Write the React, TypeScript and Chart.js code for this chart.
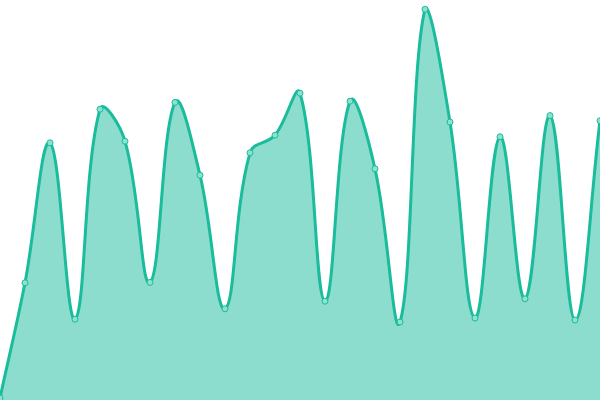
import Chart from "chart.js/auto";
import { useRef, useEffect } from "react";

// one label per point, no axes are shown
const labels = [
  "1", "2", "3", "4", "5", "6", "7", "8", "9", "10", "11", "12", "13",
  "14", "15", "16", "17", "18", "19", "20", "21", "22", "23", "24", "25",
];

const values = [
  0.5, 29.3, 64.3, 20.2, 72.7, 64.7, 29.4, 74.4, 56.2, 22.8, 61.8, 66.2, 76.7,
  24.7, 74.7, 57.8, 19.5, 97.7, 69.5, 20.5, 65.8, 25.3, 71.1, 20, 69.8,
];

const lineColor = "#1abc9c";
const fillColor = "rgba(26, 188, 156, 0.5)";

export const App = () => {
  const canvasRef = useRef<HTMLCanvasElement | null>(null);

  useEffect(() => {
    const canvas = canvasRef.current;
    if (!canvas) return;
    const chart = new Chart(canvas, {
      type: "line",
      data: {
        labels: labels,
        datasets: [
          {
            data: values,
            borderColor: lineColor,
            backgroundColor: fillColor,
            borderWidth: 3,
            fill: "origin",
            tension: 0.4,
            pointRadius: 3,
            pointBorderWidth: 1,
            pointBackgroundColor: "#8ee0cf",
            pointBorderColor: lineColor,
          },
        ],
      },
      options: {
        animation: false,
        responsive: true,
        maintainAspectRatio: false,
        layout: { padding: 0, autoPadding: false },
        plugins: {
          legend: { display: false },
          tooltip: { enabled: false },
        },
        scales: {
          x: { display: false },
          y: { display: false, min: 0, max: 100 },
        },
      },
    });

    // cleanup function
    return () => {
      chart.destroy();
    };
  }, []);

  return (
    <div
      style={{
        position: "fixed",
        left: 0,
        top: 0,
        width: "600px",
        height: "400px",
        background: "#fff",
      }}
    >
      <canvas ref={canvasRef}></canvas>
    </div>
  );
};

export default App;
